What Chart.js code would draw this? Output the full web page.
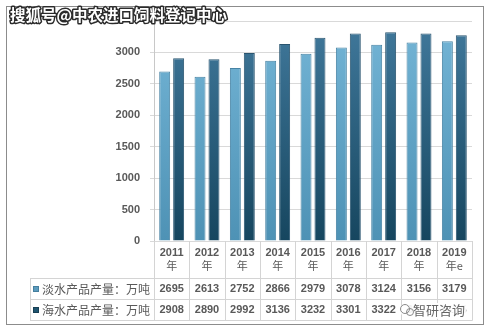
<!DOCTYPE html>
<html><head><meta charset="utf-8">
<script src="https://cdn.jsdelivr.net/npm/chart.js@4/dist/chart.umd.min.js"></script>
<style>html,body{margin:0;padding:0;background:#fff;}#wrap{position:relative;width:492px;height:332px;}</style>
</head><body><div id="wrap"><canvas id="c" width="492" height="332"></canvas></div>
<script>
const categories = ['2011','2012','2013','2014','2015','2016','2017','2018','2019'];
const categorySuffix = ['年','年','年','年','年','年','年','年','年e'];
const seriesNames = ['淡水产品产量：万吨','海水产品产量：万吨'];
const freshwater = [2695,2613,2752,2866,2979,3078,3124,3156,3179];
const seawater = [2908,2890,2992,3136,3232,3301,3322,3301,3275];
const yMax = 3500;
const yStep = 500;
const titleText = '搜狐号@中农进口饲料登记中心';
const watermarkText = '智研咨询';

const NUM_FONT = 'bold 11px "Liberation Sans", Arial, sans-serif';
const CJK_FONT = '12px "Noto Sans CJK SC", sans-serif';
const TEXT_COLOR = '#595959';
const LINE_COLOR = '#d4d4d4';

function grad(ctx, area, top, bottom) {
  const g = ctx.createLinearGradient(0, area.top, 0, area.bottom);
  g.addColorStop(0, top); g.addColorStop(1, bottom);
  return g;
}

const framePlugin = {
  id: 'frame',
  beforeDraw(chart) {
    const c = chart.ctx;
    c.save();
    c.fillStyle = '#fff';
    c.fillRect(0, 0, chart.width, chart.height);
    c.strokeStyle = '#8c8c8c';
    c.lineWidth = 1;
    c.strokeRect(6.5, 6.5, 477, 318);
    c.restore();
  },
  afterDraw(chart) {
    const c = chart.ctx;
    const area = chart.chartArea;
    const xs = chart.scales.x;
    const n = categories.length;
    const cw = (area.right - area.left) / n;
    const tTop = area.bottom, r1 = 278, r2 = 299, r3 = 320, labL = 30;
    c.save();
    c.strokeStyle = LINE_COLOR; c.lineWidth = 1;
    c.beginPath();
    for (let i = 0; i <= n; i++) {
      const x = Math.round(area.left + i * cw) + 0.5;
      c.moveTo(x, tTop); c.lineTo(x, r3 + 0.5);
    }
    c.moveTo(labL + 0.5, r1); c.lineTo(labL + 0.5, r3 + 0.5);
    [r1, r2, r3].forEach(y => { c.moveTo(labL, y + 0.5); c.lineTo(area.right + 0.5, y + 0.5); });
    c.stroke();

    c.fillStyle = TEXT_COLOR;
    c.textAlign = 'center'; c.textBaseline = 'middle';
    for (let i = 0; i < n; i++) {
      const x = xs.getPixelForValue(i);
      c.font = NUM_FONT;
      c.fillText(categories[i], x, 253);
      c.font = '11px "Noto Sans CJK SC", sans-serif';
      c.fillText(categorySuffix[i], x + (categorySuffix[i].length > 1 ? 0 : 0), 266);
      c.font = NUM_FONT;
      c.fillText(String(freshwater[i]), x, 289);
      c.fillText(String(seawater[i]), x, 310);
    }
    // legend keys
    const keys = [['#5b9bbd', '#467f9e', 289], ['#1f5570', '#173f54', 310]];
    keys.forEach((k, j) => {
      c.fillStyle = k[0]; c.fillRect(33, k[2] - 3, 6, 6);
      c.strokeStyle = k[1]; c.strokeRect(33.5, k[2] - 2.5, 5, 5);
      c.fillStyle = TEXT_COLOR; c.font = CJK_FONT; c.textAlign = 'left';
      c.fillText(seriesNames[j], 42, k[2] + 0.5);
    });

    // title watermark
    c.font = 'bold 15.5px "Noto Sans CJK SC", sans-serif';
    c.textAlign = 'left'; c.textBaseline = 'middle';
    c.lineJoin = 'round';
    c.strokeStyle = '#2b2b2b'; c.lineWidth = 3;
    c.strokeText(titleText, 10, 15);
    c.fillStyle = '#ffffff';
    c.fillText(titleText, 10, 15);

    // bottom watermark
    c.font = '13px "Noto Sans CJK SC", sans-serif';
    c.strokeStyle = 'rgba(255,255,255,0.95)'; c.lineWidth = 4;
    c.strokeText(watermarkText, 413, 310);
    c.fillStyle = 'rgba(255,255,255,0.9)';
    c.beginPath(); c.arc(407, 310, 7, 0, Math.PI * 2); c.fill();
    c.strokeStyle = '#8a8a8a'; c.lineWidth = 1;
    c.beginPath(); c.arc(405, 309, 4.5, 0, Math.PI * 2); c.stroke();
    c.beginPath(); c.arc(410, 312, 3.5, 0, Math.PI * 2); c.stroke();
    c.fillStyle = '#666';
    c.fillText(watermarkText, 413, 310);
    c.restore();
  }
};

new Chart(document.getElementById('c'), {
  type: 'bar',
  data: {
    labels: categories,
    datasets: [
      {
        label: seriesNames[0], data: freshwater,
        backgroundColor: (ctx) => { const a = ctx.chart.chartArea; return a ? grad(ctx.chart.ctx, a, '#74b5d6', '#4e92b5') : '#5b9bbd'; },
        borderColor: '#4783a4', borderWidth: 1,
        barPercentage: 0.786, categoryPercentage: 0.79
      },
      {
        label: seriesNames[1], data: seawater,
        backgroundColor: (ctx) => { const a = ctx.chart.chartArea; return a ? grad(ctx.chart.ctx, a, '#41799c', '#16465f') : '#1f5570'; },
        borderColor: '#2a5570', borderWidth: 1,
        barPercentage: 0.786, categoryPercentage: 0.79
      }
    ]
  },
  options: {
    responsive: false, animation: false, devicePixelRatio: 1,
    layout: { padding: { left: 0, right: 20, top: 21, bottom: 91 } },
    plugins: { legend: { display: false }, tooltip: { enabled: false }, title: { display: false } },
    scales: {
      x: { display: false },
      y: {
        min: 0, max: yMax,
        afterFit(scale) { scale.width = 154; },
        ticks: {
          stepSize: yStep, padding: 10, color: TEXT_COLOR,
          font: { family: '"Liberation Sans", Arial, sans-serif', size: 11, weight: 'bold' },
          callback: (v) => v === yMax ? '' : v
        },
        grid: { color: '#d9d9d9', tickLength: 4 },
        border: { color: '#c8c8c8' }
      }
    }
  },
  plugins: [framePlugin]
});
</script></body></html>
